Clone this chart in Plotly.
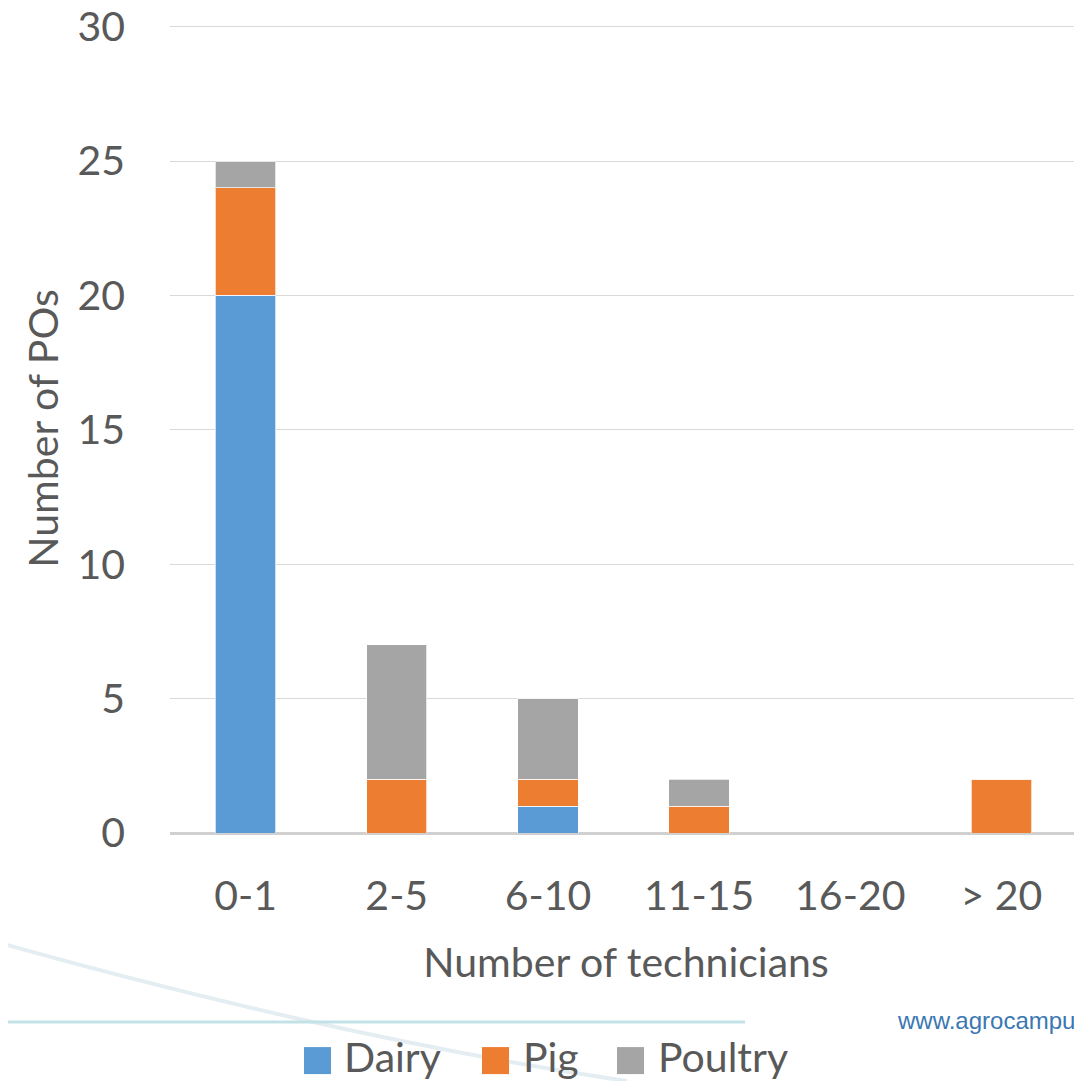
import plotly.graph_objects as go

categories = ["0-1", "2-5", "6-10", "11-15", "16-20", "> 20"]
dairy = [20, 0, 1, 0, 0, 0]
pig = [4, 2, 1, 1, 0, 2]
poultry = [1, 5, 3, 1, 0, 0]
series_names = ["Dairy", "Pig", "Poultry"]
series_colors = ["#5B9BD5", "#ED7D31", "#A5A5A5"]
y_ticks = [0, 5, 10, 15, 20, 25, 30]

# the page body has an 8px margin: the figure starts at page (8, 8)
OFF = 8
W, H = 1082 - OFF, 1081 - OFF
Y_MAX = 30.1                       # a hair above 30 so the top gridline is drawn
UNIT = (833 - 27) / 30.0           # px per y unit
L = 170 - OFF
R = 0
B = H - (833 - OFF)
T = (833 - OFF) - Y_MAX * UNIT
PW, PH = W - L - R, H - T - B

def px(x):
    """page pixel x -> paper coordinate"""
    return (x - OFF - L) / PW

def py(y):
    """page pixel y -> paper coordinate"""
    return (H - B - (y - OFF)) / PH

FONT = "Lato"
TXT = "#595959"
FS = 41

fig = go.Figure()
for name, vals, col in zip(series_names, [dairy, pig, poultry], series_colors):
    fig.add_trace(go.Bar(
        x=categories, y=vals, name=name, marker_color=col,
        marker_line=dict(color="rgba(255,255,255,0.7)", width=1),
        width=0.4, showlegend=False,
    ))

shapes = []
# decorative background curve
p0 = (px(0), py(943)); c = (px(338), py(1037.6)); p2 = (px(627), py(1081))
shapes.append(dict(type="path", xref="paper", yref="paper", layer="below",
                   path=f"M {p0[0]},{p0[1]} Q {c[0]},{c[1]} {p2[0]},{p2[1]}",
                   line=dict(color="#e4edf2", width=4)))
# decorative horizontal line
shapes.append(dict(type="line", xref="paper", yref="paper", layer="below",
                   x0=px(0), x1=px(745), y0=py(1022), y1=py(1022),
                   line=dict(color="#c3e2e8", width=3)))

annotations = []
# legend
leg_sq_x = [304, 482, 617]
leg_txt_x = [342, 521, 656]
for name, col, sx, tx in zip(series_names, series_colors, leg_sq_x, leg_txt_x):
    shapes.append(dict(type="rect", xref="paper", yref="paper",
                       x0=px(sx), x1=px(sx + 27), y0=py(1074), y1=py(1047),
                       fillcolor=col, line=dict(width=0)))
    annotations.append(dict(text=name, xref="paper", yref="paper", x=px(tx), y=py(1056),
                            xanchor="left", yanchor="middle", showarrow=False,
                            font=dict(family=FONT, size=FS, color=TXT)))

annotations.append(dict(text="www.agrocampus", xref="paper", yref="paper",
                        x=px(895), y=py(1020), xanchor="left", yanchor="middle",
                        showarrow=False,
                        font=dict(family="Liberation Sans, Arial", size=24, color="#3b78b2")))

fig.update_layout(
    width=W, height=H,
    margin=dict(l=L, r=R, t=T, b=B, autoexpand=False),
    barmode="stack",
    plot_bgcolor="white", paper_bgcolor="white",
    font=dict(family=FONT, color=TXT, size=FS),
    shapes=shapes, annotations=annotations,
    showlegend=False,
)
fig.update_xaxes(
    range=[-0.5, 5.533], showgrid=False, showline=False, zeroline=False,
    ticks="", ticklabelstandoff=35,
    tickfont=dict(family=FONT, size=FS, color=TXT),
    title=dict(text="Number of technicians", font=dict(family=FONT, size=FS, color=TXT), standoff=30),
)
fig.update_yaxes(
    range=[0, Y_MAX], tickvals=y_ticks, showgrid=True, gridcolor="#D9D9D9", gridwidth=1.3,
    zeroline=True, zerolinecolor="#D0D0D0", zerolinewidth=2.5, showline=False,
    ticks="", ticklabelstandoff=44, ticklabeloverflow="allow",
    tickfont=dict(family=FONT, size=FS, color=TXT),
    title=dict(text="Number of POs", font=dict(family=FONT, size=FS, color=TXT), standoff=6),
)

fig.write_html("out.html")
